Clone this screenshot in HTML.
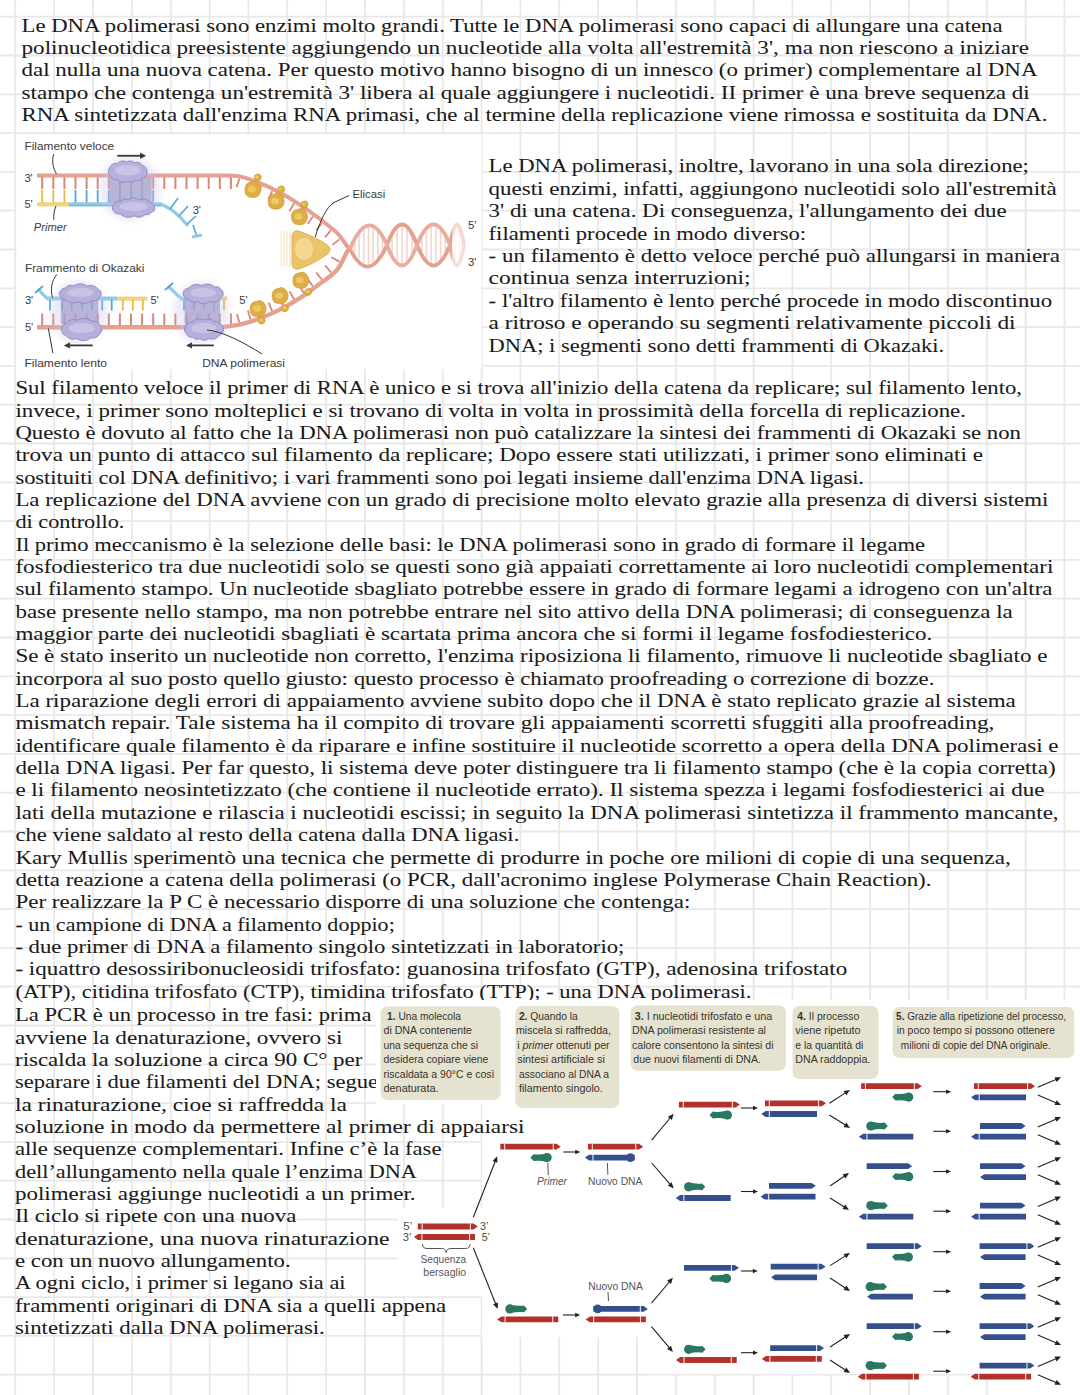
<!DOCTYPE html>
<html><head><meta charset="utf-8"><style>
html,body{margin:0;padding:0;background:#fff;width:1080px;height:1395px;overflow:hidden}
svg{display:block}
.t{font-family:"Liberation Serif",serif;font-size:18.3px;fill:#1a1a1a;stroke:#1a1a1a;stroke-width:0.06px}
.s{font-family:"Liberation Sans",sans-serif;fill:#444}
</style></head><body>
<svg width="1080" height="1395" viewBox="0 0 1080 1395">
<defs><clipPath id="clipB4"><rect x="0" y="1070" width="376" height="30"/></clipPath></defs>
<rect width="1080" height="1395" fill="#fff"/>
<g stroke="#e8e8e8" stroke-width="1.8"><line x1="15.30" y1="0" x2="15.30" y2="1395"/><line x1="54.16" y1="0" x2="54.16" y2="1395"/><line x1="93.01" y1="0" x2="93.01" y2="1395"/><line x1="131.87" y1="0" x2="131.87" y2="1395"/><line x1="170.72" y1="0" x2="170.72" y2="1395"/><line x1="209.58" y1="0" x2="209.58" y2="1395"/><line x1="248.44" y1="0" x2="248.44" y2="1395"/><line x1="287.29" y1="0" x2="287.29" y2="1395"/><line x1="326.15" y1="0" x2="326.15" y2="1395"/><line x1="365.00" y1="0" x2="365.00" y2="1395"/><line x1="403.86" y1="0" x2="403.86" y2="1395"/><line x1="442.72" y1="0" x2="442.72" y2="1395"/><line x1="481.57" y1="0" x2="481.57" y2="1395"/><line x1="520.43" y1="0" x2="520.43" y2="1395"/><line x1="559.28" y1="0" x2="559.28" y2="1395"/><line x1="598.14" y1="0" x2="598.14" y2="1395"/><line x1="637.00" y1="0" x2="637.00" y2="1395"/><line x1="675.85" y1="0" x2="675.85" y2="1395"/><line x1="714.71" y1="0" x2="714.71" y2="1395"/><line x1="753.56" y1="0" x2="753.56" y2="1395"/><line x1="792.42" y1="0" x2="792.42" y2="1395"/><line x1="831.28" y1="0" x2="831.28" y2="1395"/><line x1="870.13" y1="0" x2="870.13" y2="1395"/><line x1="908.99" y1="0" x2="908.99" y2="1395"/><line x1="947.84" y1="0" x2="947.84" y2="1395"/><line x1="986.70" y1="0" x2="986.70" y2="1395"/><line x1="1025.56" y1="0" x2="1025.56" y2="1395"/><line x1="1064.41" y1="0" x2="1064.41" y2="1395"/><line x1="0" y1="16.70" x2="1080" y2="16.70"/><line x1="0" y1="55.50" x2="1080" y2="55.50"/><line x1="0" y1="94.30" x2="1080" y2="94.30"/><line x1="0" y1="133.10" x2="1080" y2="133.10"/><line x1="0" y1="171.90" x2="1080" y2="171.90"/><line x1="0" y1="210.70" x2="1080" y2="210.70"/><line x1="0" y1="249.50" x2="1080" y2="249.50"/><line x1="0" y1="288.30" x2="1080" y2="288.30"/><line x1="0" y1="327.10" x2="1080" y2="327.10"/><line x1="0" y1="365.90" x2="1080" y2="365.90"/><line x1="0" y1="404.70" x2="1080" y2="404.70"/><line x1="0" y1="443.50" x2="1080" y2="443.50"/><line x1="0" y1="482.30" x2="1080" y2="482.30"/><line x1="0" y1="521.10" x2="1080" y2="521.10"/><line x1="0" y1="559.90" x2="1080" y2="559.90"/><line x1="0" y1="598.70" x2="1080" y2="598.70"/><line x1="0" y1="637.50" x2="1080" y2="637.50"/><line x1="0" y1="676.30" x2="1080" y2="676.30"/><line x1="0" y1="715.10" x2="1080" y2="715.10"/><line x1="0" y1="753.90" x2="1080" y2="753.90"/><line x1="0" y1="792.70" x2="1080" y2="792.70"/><line x1="0" y1="831.50" x2="1080" y2="831.50"/><line x1="0" y1="870.30" x2="1080" y2="870.30"/><line x1="0" y1="909.10" x2="1080" y2="909.10"/><line x1="0" y1="947.90" x2="1080" y2="947.90"/><line x1="0" y1="986.70" x2="1080" y2="986.70"/><line x1="0" y1="1025.50" x2="1080" y2="1025.50"/><line x1="0" y1="1064.30" x2="1080" y2="1064.30"/><line x1="0" y1="1103.10" x2="1080" y2="1103.10"/><line x1="0" y1="1141.90" x2="1080" y2="1141.90"/><line x1="0" y1="1180.70" x2="1080" y2="1180.70"/><line x1="0" y1="1219.50" x2="1080" y2="1219.50"/><line x1="0" y1="1258.30" x2="1080" y2="1258.30"/><line x1="0" y1="1297.10" x2="1080" y2="1297.10"/><line x1="0" y1="1335.90" x2="1080" y2="1335.90"/><line x1="0" y1="1374.70" x2="1080" y2="1374.70"/></g>
<text class="t" x="21.5" y="31.8" textLength="981.0" lengthAdjust="spacingAndGlyphs">Le DNA polimerasi sono enzimi molto grandi. Tutte le DNA polimerasi sono capaci di allungare una catena</text><text class="t" x="21.5" y="54.0" textLength="1007.5" lengthAdjust="spacingAndGlyphs">polinucleotidica preesistente aggiungendo un nucleotide alla volta all'estremità 3', ma non riescono a iniziare</text><text class="t" x="21.5" y="76.4" textLength="1016.0" lengthAdjust="spacingAndGlyphs">dal nulla una nuova catena. Per questo motivo hanno bisogno di un innesco (o primer) complementare al DNA</text><text class="t" x="21.5" y="98.8" textLength="1008.2" lengthAdjust="spacingAndGlyphs">stampo che contenga un'estremità 3' libera al quale aggiungere i nucleotidi. II primer è una breve sequenza di</text><text class="t" x="21.5" y="121.2" textLength="1026.0" lengthAdjust="spacingAndGlyphs">RNA sintetizzata dall'enzima RNA primasi, che al termine della replicazione viene rimossa e sostituita da DNA.</text><text class="t" x="488.6" y="172.3" textLength="540.3" lengthAdjust="spacingAndGlyphs">Le DNA polimerasi, inoltre, lavorano in una sola direzione;</text><text class="t" x="488.6" y="194.7" textLength="568.1" lengthAdjust="spacingAndGlyphs">questi enzimi, infatti, aggiungono nucleotidi solo all'estremità</text><text class="t" x="488.6" y="217.1" textLength="518.1" lengthAdjust="spacingAndGlyphs">3' di una catena. Di conseguenza, l'allungamento dei due</text><text class="t" x="488.6" y="239.5" textLength="317.5" lengthAdjust="spacingAndGlyphs">filamenti procede in modo diverso:</text><text class="t" x="488.6" y="261.9" textLength="571.4" lengthAdjust="spacingAndGlyphs">- un filamento è detto veloce perché può allungarsi in maniera</text><text class="t" x="488.6" y="284.3" textLength="262.0" lengthAdjust="spacingAndGlyphs">continua senza interruzioni;</text><text class="t" x="488.6" y="306.7" textLength="563.6" lengthAdjust="spacingAndGlyphs">- l'altro filamento è lento perché procede in modo discontinuo</text><text class="t" x="488.6" y="329.1" textLength="527.0" lengthAdjust="spacingAndGlyphs">a ritroso e operando su segmenti relativamente piccoli di</text><text class="t" x="488.6" y="351.5" textLength="455.4" lengthAdjust="spacingAndGlyphs">DNA; i segmenti sono detti frammenti di Okazaki.</text><text class="t" x="15.4" y="394.1" textLength="1006.6" lengthAdjust="spacingAndGlyphs">Sul filamento veloce il primer di RNA è unico e si trova all'inizio della catena da replicare; sul filamento lento,</text><text class="t" x="15.4" y="416.5" textLength="950.6" lengthAdjust="spacingAndGlyphs">invece, i primer sono molteplici e si trovano di volta in volta in prossimità della forcella di replicazione.</text><text class="t" x="15.4" y="438.8" textLength="1005.6" lengthAdjust="spacingAndGlyphs">Questo è dovuto al fatto che la DNA polimerasi non può catalizzare la sintesi dei frammenti di Okazaki se non</text><text class="t" x="15.4" y="461.2" textLength="967.6" lengthAdjust="spacingAndGlyphs">trova un punto di attacco sul filamento da replicare; Dopo essere stati utilizzati, i primer sono eliminati e</text><text class="t" x="15.4" y="483.5" textLength="848.6" lengthAdjust="spacingAndGlyphs">sostituiti col DNA definitivo; i vari frammenti sono poi legati insieme dall'enzima DNA ligasi.</text><text class="t" x="15.4" y="505.9" textLength="1033.0" lengthAdjust="spacingAndGlyphs">La replicazione del DNA avviene con un grado di precisione molto elevato grazie alla presenza di diversi sistemi</text><text class="t" x="15.4" y="528.2" textLength="109.0" lengthAdjust="spacingAndGlyphs">di controllo.</text><text class="t" x="15.4" y="550.6" textLength="909.6" lengthAdjust="spacingAndGlyphs">Il primo meccanismo è la selezione delle basi: le DNA polimerasi sono in grado di formare il legame</text><text class="t" x="15.4" y="572.9" textLength="1038.1" lengthAdjust="spacingAndGlyphs">fosfodiesterico tra due nucleotidi solo se questi sono già appaiati correttamente ai loro nucleotidi complementari</text><text class="t" x="15.4" y="595.2" textLength="1037.1" lengthAdjust="spacingAndGlyphs">sul filamento stampo. Un nucleotide sbagliato potrebbe essere in grado di formare legami a idrogeno con un'altra</text><text class="t" x="15.4" y="617.6" textLength="997.4" lengthAdjust="spacingAndGlyphs">base presente nello stampo, ma non potrebbe entrare nel sito attivo della DNA polimerasi; di conseguenza la</text><text class="t" x="15.4" y="640.0" textLength="916.9" lengthAdjust="spacingAndGlyphs">maggior parte dei nucleotidi sbagliati è scartata prima ancora che si formi il legame fosfodiesterico.</text><text class="t" x="15.4" y="662.3" textLength="1032.0" lengthAdjust="spacingAndGlyphs">Se è stato inserito un nucleotide non corretto, l'enzima riposiziona li filamento, rimuove li nucleotide sbagliato e</text><text class="t" x="15.4" y="684.7" textLength="919.0" lengthAdjust="spacingAndGlyphs">incorpora al suo posto quello giusto: questo processo è chiamato proofreading o correzione di bozze.</text><text class="t" x="15.4" y="707.0" textLength="1000.4" lengthAdjust="spacingAndGlyphs">La riparazione degli errori di appaiamento avviene subito dopo che il DNA è stato replicato grazie al sistema</text><text class="t" x="15.4" y="729.4" textLength="979.0" lengthAdjust="spacingAndGlyphs">mismatch repair. Tale sistema ha il compito di trovare gli appaiamenti scorretti sfuggiti alla proofreading,</text><text class="t" x="15.4" y="751.7" textLength="1043.2" lengthAdjust="spacingAndGlyphs">identificare quale filamento è da riparare e infine sostituire il nucleotide scorretto a opera della DNA polimerasi e</text><text class="t" x="15.4" y="774.1" textLength="1040.2" lengthAdjust="spacingAndGlyphs">della DNA ligasi. Per far questo, li sistema deve poter distinguere tra li filamento stampo (che è la copia corretta)</text><text class="t" x="15.4" y="796.4" textLength="1029.0" lengthAdjust="spacingAndGlyphs">e li filamento neosintetizzato (che contiene il nucleotide errato). Il sistema spezza i legami fosfodiesterici ai due</text><text class="t" x="15.4" y="818.8" textLength="1043.2" lengthAdjust="spacingAndGlyphs">lati della mutazione e rilascia i nucleotidi escissi; in seguito la DNA polimerasi sintetizza il frammento mancante,</text><text class="t" x="15.4" y="841.1" textLength="503.9" lengthAdjust="spacingAndGlyphs">che viene saldato al resto della catena dalla DNA ligasi.</text><text class="t" x="15.4" y="863.5" textLength="995.3" lengthAdjust="spacingAndGlyphs">Kary Mullis sperimentò una tecnica che permette di produrre in poche ore milioni di copie di una sequenza,</text><text class="t" x="15.4" y="885.8" textLength="916.1" lengthAdjust="spacingAndGlyphs">detta reazione a catena della polimerasi (o PCR, dall'acronimo inglese Polymerase Chain Reaction).</text><text class="t" x="15.4" y="908.2" textLength="675.0" lengthAdjust="spacingAndGlyphs">Per realizzare la P C è necessario disporre di una soluzione che contenga:</text><text class="t" x="15.4" y="930.5" textLength="379.4" lengthAdjust="spacingAndGlyphs">- un campione di DNA a filamento doppio;</text><text class="t" x="15.4" y="952.9" textLength="609.0" lengthAdjust="spacingAndGlyphs">- due primer di DNA a filamento singolo sintetizzati in laboratorio;</text><text class="t" x="15.4" y="975.2" textLength="831.8" lengthAdjust="spacingAndGlyphs">- iquattro desossiribonucleosidi trifosfato: guanosina trifosfato (GTP), adenosina trifostato</text><text class="t" x="15.4" y="997.6" textLength="735.9" lengthAdjust="spacingAndGlyphs">(ATP), citidina trifosfato (CTP), timidina trifosfato (TTP); - una DNA polimerasi.</text>
<defs><filter id="blur3" x="-50%" y="-50%" width="200%" height="200%"><feGaussianBlur stdDeviation="3"/></filter></defs><g id="fork"><rect x="16.5" y="134.5" width="465" height="234.5" fill="#fff"/><line x1="42.2" y1="177.0" x2="42.2" y2="189.0" stroke="#d98577" stroke-width="2.0" stroke-linecap="butt" opacity="1"/><line x1="53.3" y1="177.0" x2="53.3" y2="189.0" stroke="#d98577" stroke-width="2.0" stroke-linecap="butt" opacity="1"/><line x1="64.4" y1="177.0" x2="64.4" y2="189.0" stroke="#d98577" stroke-width="2.0" stroke-linecap="butt" opacity="1"/><line x1="75.5" y1="177.0" x2="75.5" y2="189.0" stroke="#d98577" stroke-width="2.0" stroke-linecap="butt" opacity="1"/><line x1="86.6" y1="177.0" x2="86.6" y2="189.0" stroke="#d98577" stroke-width="2.0" stroke-linecap="butt" opacity="1"/><line x1="97.7" y1="177.0" x2="97.7" y2="189.0" stroke="#d98577" stroke-width="2.0" stroke-linecap="butt" opacity="1"/><line x1="108.8" y1="177.0" x2="108.8" y2="189.0" stroke="#d98577" stroke-width="2.0" stroke-linecap="butt" opacity="1"/><line x1="119.9" y1="177.0" x2="119.9" y2="189.0" stroke="#d98577" stroke-width="2.0" stroke-linecap="butt" opacity="1"/><line x1="131.0" y1="177.0" x2="131.0" y2="189.0" stroke="#d98577" stroke-width="2.0" stroke-linecap="butt" opacity="1"/><line x1="142.1" y1="177.0" x2="142.1" y2="189.0" stroke="#d98577" stroke-width="2.0" stroke-linecap="butt" opacity="1"/><line x1="153.2" y1="177.0" x2="153.2" y2="189.0" stroke="#d98577" stroke-width="2.0" stroke-linecap="butt" opacity="1"/><line x1="164.3" y1="177.0" x2="164.3" y2="189.0" stroke="#d98577" stroke-width="2.0" stroke-linecap="butt" opacity="1"/><line x1="175.4" y1="177.0" x2="175.4" y2="189.0" stroke="#d98577" stroke-width="2.0" stroke-linecap="butt" opacity="1"/><line x1="186.5" y1="177.0" x2="186.5" y2="189.0" stroke="#d98577" stroke-width="2.0" stroke-linecap="butt" opacity="1"/><line x1="197.6" y1="177.0" x2="197.6" y2="189.0" stroke="#d98577" stroke-width="2.0" stroke-linecap="butt" opacity="1"/><line x1="208.7" y1="177.0" x2="208.7" y2="189.0" stroke="#d98577" stroke-width="2.0" stroke-linecap="butt" opacity="1"/><line x1="219.8" y1="177.0" x2="219.8" y2="189.0" stroke="#d98577" stroke-width="2.0" stroke-linecap="butt" opacity="1"/><line x1="230.9" y1="177.0" x2="230.9" y2="189.0" stroke="#d98577" stroke-width="2.0" stroke-linecap="butt" opacity="1"/><line x1="42.2" y1="190.0" x2="42.2" y2="203.0" stroke="#e2b94a" stroke-width="1.8" stroke-linecap="butt" opacity="1"/><line x1="53.3" y1="190.0" x2="53.3" y2="203.0" stroke="#e2b94a" stroke-width="1.8" stroke-linecap="butt" opacity="1"/><line x1="64.4" y1="190.0" x2="64.4" y2="203.0" stroke="#e2b94a" stroke-width="1.8" stroke-linecap="butt" opacity="1"/><line x1="75.5" y1="190.0" x2="75.5" y2="203.0" stroke="#4fa7d2" stroke-width="1.8" stroke-linecap="butt" opacity="1"/><line x1="86.6" y1="190.0" x2="86.6" y2="203.0" stroke="#4fa7d2" stroke-width="1.8" stroke-linecap="butt" opacity="1"/><line x1="97.7" y1="190.0" x2="97.7" y2="203.0" stroke="#4fa7d2" stroke-width="1.8" stroke-linecap="butt" opacity="1"/><line x1="108.8" y1="190.0" x2="108.8" y2="203.0" stroke="#4fa7d2" stroke-width="1.8" stroke-linecap="butt" opacity="1"/><line x1="119.9" y1="190.0" x2="119.9" y2="203.0" stroke="#4fa7d2" stroke-width="1.8" stroke-linecap="butt" opacity="1"/><line x1="131.0" y1="190.0" x2="131.0" y2="203.0" stroke="#4fa7d2" stroke-width="1.8" stroke-linecap="butt" opacity="1"/><line x1="142.1" y1="190.0" x2="142.1" y2="203.0" stroke="#4fa7d2" stroke-width="1.8" stroke-linecap="butt" opacity="1"/><line x1="153.2" y1="190.0" x2="153.2" y2="203.0" stroke="#4fa7d2" stroke-width="1.8" stroke-linecap="butt" opacity="1"/><line x1="37.0" y1="175.5" x2="221.0" y2="175.5" stroke="#e6a08f" stroke-width="4.0" stroke-linecap="butt" opacity="1"/><path d="M220.0,175.5 C223.2,175.7 232.9,175.2 239.4,176.4 C245.9,177.6 252.4,180.1 258.9,182.7 C265.4,185.3 271.8,188.4 278.3,191.8 C284.8,195.2 291.3,199.2 297.8,203.4 C304.3,207.6 310.7,212.1 317.2,217.0 C323.7,221.9 331.7,227.8 336.7,232.6 C341.7,237.4 344.8,243.3 347.0,246.0 C349.2,248.7 349.5,248.5 350.0,249.0" fill="none" stroke="#e6a08f" stroke-width="4.0" opacity="1" /><line x1="239.4" y1="178.5" x2="236.6" y2="187.1" stroke="#d98577" stroke-width="1.8" stroke-linecap="butt" opacity="1"/><line x1="250.4" y1="182.1" x2="247.6" y2="190.6" stroke="#d98577" stroke-width="1.8" stroke-linecap="butt" opacity="1"/><line x1="261.2" y1="186.0" x2="257.3" y2="194.1" stroke="#d98577" stroke-width="1.8" stroke-linecap="butt" opacity="1"/><line x1="272.2" y1="191.1" x2="268.3" y2="199.3" stroke="#d98577" stroke-width="1.8" stroke-linecap="butt" opacity="1"/><line x1="283.0" y1="196.9" x2="278.4" y2="204.6" stroke="#d98577" stroke-width="1.8" stroke-linecap="butt" opacity="1"/><line x1="294.0" y1="203.5" x2="289.4" y2="211.2" stroke="#d98577" stroke-width="1.8" stroke-linecap="butt" opacity="1"/><line x1="303.9" y1="210.1" x2="298.7" y2="217.5" stroke="#d98577" stroke-width="1.8" stroke-linecap="butt" opacity="1"/><line x1="312.9" y1="216.4" x2="307.7" y2="223.8" stroke="#d98577" stroke-width="1.8" stroke-linecap="butt" opacity="1"/><line x1="321.8" y1="223.2" x2="316.1" y2="230.2" stroke="#d98577" stroke-width="1.8" stroke-linecap="butt" opacity="1"/><line x1="330.8" y1="230.4" x2="325.1" y2="237.4" stroke="#d98577" stroke-width="1.8" stroke-linecap="butt" opacity="1"/><line x1="339.4" y1="239.4" x2="332.3" y2="244.9" stroke="#d98577" stroke-width="1.8" stroke-linecap="butt" opacity="1"/><line x1="37.0" y1="204.3" x2="69.0" y2="204.3" stroke="#f0d27a" stroke-width="4.2" stroke-linecap="butt" opacity="1"/><line x1="69.0" y1="204.3" x2="162.0" y2="204.3" stroke="#8fcbe6" stroke-width="4.2" stroke-linecap="butt" opacity="1"/><line x1="69.0" y1="205.5" x2="162.0" y2="205.5" stroke="#4fa7d2" stroke-width="1.0" stroke-linecap="butt" opacity="0.6"/><line x1="162.0" y1="204.5" x2="172.0" y2="210.0" stroke="#8fcbe6" stroke-width="3.2" stroke-linecap="butt" opacity="1"/><line x1="172.0" y1="210.0" x2="181.0" y2="218.0" stroke="#8fcbe6" stroke-width="3.2" stroke-linecap="butt" opacity="1"/><line x1="181.0" y1="218.0" x2="188.0" y2="226.0" stroke="#8fcbe6" stroke-width="3.2" stroke-linecap="butt" opacity="1"/><line x1="170.0" y1="209.0" x2="178.0" y2="198.0" stroke="#4fa7d2" stroke-width="1.6" stroke-linecap="butt" opacity="1"/><line x1="179.0" y1="216.0" x2="188.0" y2="206.0" stroke="#4fa7d2" stroke-width="1.6" stroke-linecap="butt" opacity="1"/><line x1="187.0" y1="224.0" x2="196.0" y2="216.0" stroke="#4fa7d2" stroke-width="1.6" stroke-linecap="butt" opacity="1"/><line x1="193.0" y1="225.0" x2="197.0" y2="237.0" stroke="#4fa7d2" stroke-width="1.6" stroke-linecap="butt" opacity="1"/><line x1="192.0" y1="237.0" x2="202.0" y2="235.0" stroke="#8fcbe6" stroke-width="3" stroke-linecap="butt" opacity="1"/><ellipse cx="129.7" cy="188.6" rx="31.0" ry="32.0" fill="#c9c5ea" opacity="0.35" filter="url(#blur3)"/><rect x="109.7" y="177.0" width="42.0" height="26.0" fill="#a39dcb" opacity="0.7"/><path d="M147.2,172.9 A5.9,5.9 0 0 1 142.5,178.0 A6.3,6.3 0 0 1 135.5,180.4 A6.8,6.8 0 0 1 127.5,181.2 A8.6,8.6 0 0 1 117.5,179.8 A8.3,8.3 0 0 1 109.3,174.7 A5.9,5.9 0 0 1 109.7,167.8 A7.7,7.7 0 0 1 117.6,163.3 A7.5,7.5 0 0 1 126.4,161.9 A6.7,6.7 0 0 1 134.3,162.5 A7.1,7.1 0 0 1 142.3,165.0 A7.9,7.9 0 0 1 147.2,172.9Z" fill="#b6b1dc" stroke="#8d87bf" stroke-width="0.9" stroke-linejoin="round"/><ellipse cx="127.8" cy="170.2" rx="12.7" ry="5.3" fill="#cfcbea" opacity="0.75"/><path d="M154.8,209.0 A4.0,4.0 0 0 1 151.4,212.2 A5.8,5.8 0 0 1 145.0,214.6 A9.3,9.3 0 0 1 134.1,215.8 A11.8,11.8 0 0 1 120.3,214.1 A7.9,7.9 0 0 1 112.4,209.1 A4.5,4.5 0 0 1 114.3,204.1 A6.0,6.0 0 0 1 120.7,201.2 A6.8,6.8 0 0 1 128.6,199.8 A8.9,8.9 0 0 1 139.1,199.9 A10.0,10.0 0 0 1 150.5,202.7 A6.4,6.4 0 0 1 154.8,209.0Z" fill="#b6b1dc" stroke="#8d87bf" stroke-width="0.9" stroke-linejoin="round"/><ellipse cx="133.6" cy="206.6" rx="13.9" ry="4.4" fill="#cfcbea" opacity="0.75"/><line x1="117.2" y1="155.8" x2="141.1" y2="155.8" stroke="#3a3a3a" stroke-width="1.8" stroke-linecap="butt" opacity="1"/><polygon points="146.1,155.8 140.1,152.6 140.1,159.0" fill="#3a3a3a"/><text x="24.4" y="150.3" textLength="89.8" lengthAdjust="spacingAndGlyphs" style="font-family:'Liberation Sans',sans-serif;font-size:11.2px;fill:#3a3a3a;">Filamento veloce</text><text x="24.4" y="181.5" textLength="8.3" lengthAdjust="spacingAndGlyphs" style="font-family:'Liberation Sans',sans-serif;font-size:11.2px;fill:#3a3a3a;">3'</text><text x="24.4" y="207.5" textLength="8.3" lengthAdjust="spacingAndGlyphs" style="font-family:'Liberation Sans',sans-serif;font-size:11.2px;fill:#3a3a3a;">5'</text><text x="192.7" y="214.0" textLength="8.3" lengthAdjust="spacingAndGlyphs" style="font-family:'Liberation Sans',sans-serif;font-size:11.2px;fill:#3a3a3a;">3'</text><text x="33.8" y="231.4" textLength="32.9" lengthAdjust="spacingAndGlyphs" style="font-family:'Liberation Sans',sans-serif;font-size:11.2px;fill:#3a3a3a;font-style:italic;">Primer</text><path d="M53.8,154 C51.5,161 53,168 56.5,174" fill="none" stroke="#333" stroke-width="1" opacity="1" /><path d="M56,206 C54,211 53.5,215 53.8,219.8" fill="none" stroke="#333" stroke-width="1" opacity="1" /><line x1="42.2" y1="313.5" x2="42.2" y2="325.0" stroke="#d98577" stroke-width="2.0" stroke-linecap="butt" opacity="1"/><line x1="53.3" y1="313.5" x2="53.3" y2="325.0" stroke="#d98577" stroke-width="2.0" stroke-linecap="butt" opacity="1"/><line x1="64.4" y1="313.5" x2="64.4" y2="325.0" stroke="#d98577" stroke-width="2.0" stroke-linecap="butt" opacity="1"/><line x1="75.5" y1="313.5" x2="75.5" y2="325.0" stroke="#d98577" stroke-width="2.0" stroke-linecap="butt" opacity="1"/><line x1="86.6" y1="313.5" x2="86.6" y2="325.0" stroke="#d98577" stroke-width="2.0" stroke-linecap="butt" opacity="1"/><line x1="97.7" y1="313.5" x2="97.7" y2="325.0" stroke="#d98577" stroke-width="2.0" stroke-linecap="butt" opacity="1"/><line x1="108.8" y1="313.5" x2="108.8" y2="325.0" stroke="#d98577" stroke-width="2.0" stroke-linecap="butt" opacity="1"/><line x1="119.9" y1="313.5" x2="119.9" y2="325.0" stroke="#d98577" stroke-width="2.0" stroke-linecap="butt" opacity="1"/><line x1="131.0" y1="313.5" x2="131.0" y2="325.0" stroke="#d98577" stroke-width="2.0" stroke-linecap="butt" opacity="1"/><line x1="142.1" y1="313.5" x2="142.1" y2="325.0" stroke="#d98577" stroke-width="2.0" stroke-linecap="butt" opacity="1"/><line x1="153.2" y1="313.5" x2="153.2" y2="325.0" stroke="#d98577" stroke-width="2.0" stroke-linecap="butt" opacity="1"/><line x1="164.3" y1="313.5" x2="164.3" y2="325.0" stroke="#d98577" stroke-width="2.0" stroke-linecap="butt" opacity="1"/><line x1="175.4" y1="313.5" x2="175.4" y2="325.0" stroke="#d98577" stroke-width="2.0" stroke-linecap="butt" opacity="1"/><line x1="186.5" y1="313.5" x2="186.5" y2="325.0" stroke="#d98577" stroke-width="2.0" stroke-linecap="butt" opacity="1"/><line x1="197.6" y1="313.5" x2="197.6" y2="325.0" stroke="#d98577" stroke-width="2.0" stroke-linecap="butt" opacity="1"/><line x1="208.7" y1="313.5" x2="208.7" y2="325.0" stroke="#d98577" stroke-width="2.0" stroke-linecap="butt" opacity="1"/><line x1="219.8" y1="313.5" x2="219.8" y2="325.0" stroke="#d98577" stroke-width="2.0" stroke-linecap="butt" opacity="1"/><line x1="230.9" y1="313.5" x2="230.9" y2="325.0" stroke="#d98577" stroke-width="2.0" stroke-linecap="butt" opacity="1"/><line x1="37.0" y1="327.2" x2="221.0" y2="327.2" stroke="#e6a08f" stroke-width="4.4" stroke-linecap="butt" opacity="1"/><path d="M220.0,327.2 C223.2,326.8 232.9,326.0 239.4,324.6 C245.9,323.2 252.4,321.2 258.9,318.8 C265.4,316.4 271.8,313.6 278.3,310.4 C284.8,307.2 291.3,303.5 297.8,299.4 C304.3,295.3 310.7,290.6 317.2,285.7 C323.7,280.8 331.7,275.8 336.7,270.2 C341.7,264.6 344.8,255.5 347.0,252.0 C349.2,248.5 349.5,249.5 350.0,249.0" fill="none" stroke="#e6a08f" stroke-width="4.4" opacity="1" /><line x1="239.4" y1="322.5" x2="236.9" y2="313.9" stroke="#d98577" stroke-width="1.8" stroke-linecap="butt" opacity="1"/><line x1="250.4" y1="319.2" x2="247.9" y2="310.6" stroke="#d98577" stroke-width="1.8" stroke-linecap="butt" opacity="1"/><line x1="261.2" y1="315.6" x2="257.6" y2="307.4" stroke="#d98577" stroke-width="1.8" stroke-linecap="butt" opacity="1"/><line x1="272.2" y1="310.9" x2="268.6" y2="302.6" stroke="#d98577" stroke-width="1.8" stroke-linecap="butt" opacity="1"/><line x1="283.0" y1="305.4" x2="278.6" y2="297.6" stroke="#d98577" stroke-width="1.8" stroke-linecap="butt" opacity="1"/><line x1="294.0" y1="299.2" x2="289.6" y2="291.4" stroke="#d98577" stroke-width="1.8" stroke-linecap="butt" opacity="1"/><line x1="303.8" y1="292.7" x2="298.7" y2="285.3" stroke="#d98577" stroke-width="1.8" stroke-linecap="butt" opacity="1"/><line x1="312.8" y1="286.3" x2="307.7" y2="279.0" stroke="#d98577" stroke-width="1.8" stroke-linecap="butt" opacity="1"/><line x1="321.8" y1="279.5" x2="316.2" y2="272.5" stroke="#d98577" stroke-width="1.8" stroke-linecap="butt" opacity="1"/><line x1="330.8" y1="272.4" x2="325.2" y2="265.3" stroke="#d98577" stroke-width="1.8" stroke-linecap="butt" opacity="1"/><line x1="339.3" y1="261.6" x2="331.4" y2="257.2" stroke="#d98577" stroke-width="1.8" stroke-linecap="butt" opacity="1"/><line x1="46.7" y1="298.6" x2="117.0" y2="298.6" stroke="#8fcbe6" stroke-width="4.0" stroke-linecap="butt" opacity="1"/><line x1="117.0" y1="298.6" x2="147.5" y2="298.6" stroke="#f0d27a" stroke-width="4.0" stroke-linecap="butt" opacity="1"/><line x1="50.0" y1="300.0" x2="50.0" y2="310.6" stroke="#4fa7d2" stroke-width="1.8" stroke-linecap="butt" opacity="1"/><line x1="62.2" y1="300.0" x2="62.2" y2="310.6" stroke="#4fa7d2" stroke-width="1.8" stroke-linecap="butt" opacity="1"/><line x1="71.7" y1="300.0" x2="71.7" y2="310.6" stroke="#4fa7d2" stroke-width="1.8" stroke-linecap="butt" opacity="1"/><line x1="82.2" y1="300.0" x2="82.2" y2="310.6" stroke="#4fa7d2" stroke-width="1.8" stroke-linecap="butt" opacity="1"/><line x1="92.2" y1="300.0" x2="92.2" y2="310.6" stroke="#4fa7d2" stroke-width="1.8" stroke-linecap="butt" opacity="1"/><line x1="102.2" y1="300.0" x2="102.2" y2="310.6" stroke="#4fa7d2" stroke-width="1.8" stroke-linecap="butt" opacity="1"/><line x1="111.7" y1="300.0" x2="111.7" y2="310.6" stroke="#4fa7d2" stroke-width="1.8" stroke-linecap="butt" opacity="1"/><line x1="122.8" y1="300.0" x2="122.8" y2="310.6" stroke="#e2b94a" stroke-width="1.8" stroke-linecap="butt" opacity="1"/><line x1="132.8" y1="300.0" x2="132.8" y2="310.6" stroke="#e2b94a" stroke-width="1.8" stroke-linecap="butt" opacity="1"/><line x1="142.8" y1="300.0" x2="142.8" y2="310.6" stroke="#e2b94a" stroke-width="1.8" stroke-linecap="butt" opacity="1"/><line x1="38.0" y1="289.0" x2="47.0" y2="298.6" stroke="#8fcbe6" stroke-width="3.2" stroke-linecap="butt" opacity="1"/><line x1="35.0" y1="293.0" x2="43.0" y2="286.0" stroke="#4fa7d2" stroke-width="1.8" stroke-linecap="butt" opacity="1"/><line x1="168.0" y1="286.0" x2="180.0" y2="297.5" stroke="#8fcbe6" stroke-width="3.2" stroke-linecap="butt" opacity="1"/><line x1="165.0" y1="290.0" x2="173.0" y2="283.0" stroke="#4fa7d2" stroke-width="1.8" stroke-linecap="butt" opacity="1"/><line x1="180.0" y1="298.6" x2="194.0" y2="298.6" stroke="#8fcbe6" stroke-width="4.0" stroke-linecap="butt" opacity="1"/><line x1="194.0" y1="298.6" x2="227.0" y2="298.6" stroke="#f0d27a" stroke-width="4.0" stroke-linecap="butt" opacity="1"/><line x1="184.0" y1="300.0" x2="184.0" y2="310.6" stroke="#4fa7d2" stroke-width="1.8" stroke-linecap="butt" opacity="1"/><line x1="194.0" y1="300.0" x2="194.0" y2="310.6" stroke="#4fa7d2" stroke-width="1.8" stroke-linecap="butt" opacity="1"/><line x1="204.0" y1="300.0" x2="204.0" y2="310.6" stroke="#e2b94a" stroke-width="1.8" stroke-linecap="butt" opacity="1"/><line x1="214.0" y1="300.0" x2="214.0" y2="310.6" stroke="#e2b94a" stroke-width="1.8" stroke-linecap="butt" opacity="1"/><line x1="224.0" y1="300.0" x2="224.0" y2="310.6" stroke="#e2b94a" stroke-width="1.8" stroke-linecap="butt" opacity="1"/><ellipse cx="78.5" cy="312.2" rx="28.8" ry="31.8" fill="#c9c5ea" opacity="0.35" filter="url(#blur3)"/><rect x="60.8" y="298.0" width="37.5" height="26.0" fill="#a39dcb" opacity="0.7"/><path d="M101.2,293.9 A3.3,3.3 0 0 1 99.2,297.2 A6.8,6.8 0 0 1 92.0,300.5 A11.7,11.7 0 0 1 78.3,301.8 A11.6,11.6 0 0 1 64.9,299.2 A6.0,6.0 0 0 1 59.5,294.6 A3.4,3.4 0 0 1 60.7,290.8 A4.5,4.5 0 0 1 65.2,288.0 A7.6,7.6 0 0 1 73.8,285.9 A11.4,11.4 0 0 1 87.2,286.0 A10.3,10.3 0 0 1 98.7,289.8 A4.1,4.1 0 0 1 101.2,293.9Z" fill="#b6b1dc" stroke="#8d87bf" stroke-width="0.9" stroke-linejoin="round"/><ellipse cx="80.3" cy="292.6" rx="13.5" ry="4.5" fill="#cfcbea" opacity="0.75"/><path d="M101.6,328.3 A4.4,4.4 0 0 1 100.1,333.2 A8.8,8.8 0 0 1 90.9,337.9 A12.2,12.2 0 0 1 76.6,338.6 A9.3,9.3 0 0 1 66.1,335.5 A4.9,4.9 0 0 1 62.0,331.5 A3.2,3.2 0 0 1 61.9,327.7 A5.0,5.0 0 0 1 66.1,323.5 A9.7,9.7 0 0 1 77.0,320.3 A12.2,12.2 0 0 1 91.3,321.2 A8.5,8.5 0 0 1 100.2,325.8 A2.4,2.4 0 0 1 101.6,328.3Z" fill="#b6b1dc" stroke="#8d87bf" stroke-width="0.9" stroke-linejoin="round"/><ellipse cx="81.7" cy="328.2" rx="13.0" ry="5.1" fill="#cfcbea" opacity="0.75"/><ellipse cx="201.3" cy="312.2" rx="27.7" ry="31.8" fill="#c9c5ea" opacity="0.35" filter="url(#blur3)"/><rect x="184.6" y="298.0" width="35.4" height="26.0" fill="#a39dcb" opacity="0.7"/><path d="M223.1,292.4 A5.1,5.1 0 0 1 220.7,297.8 A10.0,10.0 0 0 1 209.5,301.5 A10.6,10.6 0 0 1 197.1,301.5 A7.0,7.0 0 0 1 189.0,299.5 A4.5,4.5 0 0 1 184.5,296.7 A3.5,3.5 0 0 1 183.2,292.8 A6.2,6.2 0 0 1 188.7,288.0 A11.3,11.3 0 0 1 201.8,285.5 A10.9,10.9 0 0 1 214.6,286.9 A6.3,6.3 0 0 1 221.3,290.1 A2.5,2.5 0 0 1 223.1,292.4Z" fill="#b6b1dc" stroke="#8d87bf" stroke-width="0.9" stroke-linejoin="round"/><ellipse cx="203.2" cy="292.6" rx="13.0" ry="4.5" fill="#cfcbea" opacity="0.75"/><path d="M223.5,329.0 A6.6,6.6 0 0 1 219.1,335.4 A9.0,9.0 0 0 1 209.0,338.6 A7.8,7.8 0 0 1 199.9,338.7 A6.3,6.3 0 0 1 192.6,337.2 A6.0,6.0 0 0 1 186.5,333.7 A5.3,5.3 0 0 1 184.8,327.7 A8.0,8.0 0 0 1 192.3,322.0 A10.5,10.5 0 0 1 204.5,320.1 A8.2,8.2 0 0 1 214.0,321.4 A5.4,5.4 0 0 1 219.9,324.0 A5.3,5.3 0 0 1 223.5,329.0Z" fill="#b6b1dc" stroke="#8d87bf" stroke-width="0.9" stroke-linejoin="round"/><ellipse cx="204.0" cy="328.2" rx="12.6" ry="5.1" fill="#cfcbea" opacity="0.75"/><line x1="92.8" y1="345.4" x2="68.9" y2="345.4" stroke="#3a3a3a" stroke-width="1.8" stroke-linecap="butt" opacity="1"/><polygon points="63.9,345.4 69.9,342.2 69.9,348.6" fill="#3a3a3a"/><line x1="213.8" y1="345.4" x2="191.0" y2="345.4" stroke="#3a3a3a" stroke-width="1.8" stroke-linecap="butt" opacity="1"/><polygon points="186.0,345.4 192.0,342.2 192.0,348.6" fill="#3a3a3a"/><text x="24.9" y="272.0" textLength="119.5" lengthAdjust="spacingAndGlyphs" style="font-family:'Liberation Sans',sans-serif;font-size:11.2px;fill:#3a3a3a;">Frammento di Okazaki</text><text x="24.9" y="303.5" textLength="8.3" lengthAdjust="spacingAndGlyphs" style="font-family:'Liberation Sans',sans-serif;font-size:11.2px;fill:#3a3a3a;">3'</text><text x="24.9" y="330.6" textLength="8.3" lengthAdjust="spacingAndGlyphs" style="font-family:'Liberation Sans',sans-serif;font-size:11.2px;fill:#3a3a3a;">5'</text><text x="150.4" y="303.5" textLength="8.3" lengthAdjust="spacingAndGlyphs" style="font-family:'Liberation Sans',sans-serif;font-size:11.2px;fill:#3a3a3a;">5'</text><text x="239.3" y="303.5" textLength="8.3" lengthAdjust="spacingAndGlyphs" style="font-family:'Liberation Sans',sans-serif;font-size:11.2px;fill:#3a3a3a;">5'</text><text x="24.4" y="366.8" textLength="82.6" lengthAdjust="spacingAndGlyphs" style="font-family:'Liberation Sans',sans-serif;font-size:11.2px;fill:#3a3a3a;">Filamento lento</text><text x="202.2" y="366.8" textLength="82.8" lengthAdjust="spacingAndGlyphs" style="font-family:'Liberation Sans',sans-serif;font-size:11.2px;fill:#3a3a3a;">DNA polimerasi</text><path d="M57,274.5 C51,281 50.5,290 52.5,297.5" fill="none" stroke="#333" stroke-width="1" opacity="1" /><path d="M48.3,328.5 C50,337 51.5,345 52.8,353" fill="none" stroke="#333" stroke-width="1" opacity="1" /><path d="M207,330 C222,331 245,343 262,354" fill="none" stroke="#333" stroke-width="1" opacity="1" /><path d="M254.3,177.5 Q254.3,174.2 257.1,174.2 Q258.7,173.1 260.4,174.8 Q262.0,176.9 260.9,179.2 Q259.8,181.3 257.1,180.8 Q254.3,180.8 254.3,177.5Z" fill="#dcae45" stroke="#c8952e" stroke-width="0.6" opacity="1" /><ellipse cx="257.1" cy="177.0" rx="1.8" ry="1.4" fill="#f0cd6e" opacity="0.8"/><path d="M244.9,189.8 Q244.9,182.3 251.2,182.3 Q254.9,179.8 258.6,183.6 Q262.4,188.6 259.9,193.6 Q257.4,198.6 251.2,197.3 Q244.9,197.3 244.9,189.8Z" fill="#dcae45" stroke="#c8952e" stroke-width="0.6" opacity="1" /><ellipse cx="251.9" cy="189.3" rx="4.0" ry="3.2" fill="#f0cd6e" opacity="0.8"/><path d="M277.7,189.5 Q277.7,186.2 280.4,186.2 Q282.1,185.1 283.8,186.8 Q285.4,188.9 284.3,191.2 Q283.2,193.3 280.4,192.8 Q277.7,192.8 277.7,189.5Z" fill="#dcae45" stroke="#c8952e" stroke-width="0.6" opacity="1" /><ellipse cx="280.5" cy="189.0" rx="1.8" ry="1.4" fill="#f0cd6e" opacity="0.8"/><path d="M268.2,201.5 Q268.2,194.0 274.4,194.0 Q278.2,191.5 281.9,195.2 Q285.7,200.2 283.2,205.2 Q280.7,210.2 274.4,209.0 Q268.2,209.0 268.2,201.5Z" fill="#dcae45" stroke="#c8952e" stroke-width="0.6" opacity="1" /><ellipse cx="275.2" cy="201.0" rx="4.0" ry="3.2" fill="#f0cd6e" opacity="0.8"/><path d="M301.0,204.5 Q301.0,201.2 303.8,201.2 Q305.4,200.1 307.1,201.8 Q308.7,203.9 307.6,206.2 Q306.5,208.3 303.8,207.8 Q301.0,207.8 301.0,204.5Z" fill="#dcae45" stroke="#c8952e" stroke-width="0.6" opacity="1" /><ellipse cx="303.8" cy="204.0" rx="1.8" ry="1.4" fill="#f0cd6e" opacity="0.8"/><path d="M291.5,217.0 Q291.5,209.5 297.8,209.5 Q301.5,207.0 305.2,210.8 Q309.0,215.8 306.5,220.8 Q304.0,225.8 297.8,224.5 Q291.5,224.5 291.5,217.0Z" fill="#dcae45" stroke="#c8952e" stroke-width="0.6" opacity="1" /><ellipse cx="298.5" cy="216.5" rx="4.0" ry="3.2" fill="#f0cd6e" opacity="0.8"/><path d="M304.7,292.0 Q304.7,288.7 307.4,288.7 Q309.1,287.6 310.8,289.2 Q312.4,291.4 311.3,293.6 Q310.2,295.9 307.4,295.3 Q304.7,295.3 304.7,292.0Z" fill="#dcae45" stroke="#c8952e" stroke-width="0.6" opacity="1" /><ellipse cx="307.5" cy="291.5" rx="1.8" ry="1.4" fill="#f0cd6e" opacity="0.8"/><path d="M292.9,280.6 Q292.9,273.1 299.1,273.1 Q302.9,270.6 306.6,274.4 Q310.4,279.4 307.9,284.4 Q305.4,289.4 299.1,288.1 Q292.9,288.1 292.9,280.6Z" fill="#dcae45" stroke="#c8952e" stroke-width="0.6" opacity="1" /><ellipse cx="299.9" cy="280.1" rx="4.0" ry="3.2" fill="#f0cd6e" opacity="0.8"/><path d="M281.5,308.4 Q281.5,305.1 284.2,305.1 Q285.9,304.0 287.6,305.6 Q289.2,307.8 288.1,310.0 Q287.0,312.2 284.2,311.7 Q281.5,311.7 281.5,308.4Z" fill="#dcae45" stroke="#c8952e" stroke-width="0.6" opacity="1" /><ellipse cx="284.3" cy="307.9" rx="1.8" ry="1.4" fill="#f0cd6e" opacity="0.8"/><path d="M272.1,296.1 Q272.1,288.6 278.4,288.6 Q282.1,286.1 285.9,289.9 Q289.6,294.9 287.1,299.9 Q284.6,304.9 278.4,303.6 Q272.1,303.6 272.1,296.1Z" fill="#dcae45" stroke="#c8952e" stroke-width="0.6" opacity="1" /><ellipse cx="279.1" cy="295.6" rx="4.0" ry="3.2" fill="#f0cd6e" opacity="0.8"/><path d="M258.2,320.7 Q258.2,317.4 260.9,317.4 Q262.6,316.3 264.2,317.9 Q265.9,320.1 264.8,322.3 Q263.7,324.6 260.9,324.0 Q258.2,324.0 258.2,320.7Z" fill="#dcae45" stroke="#c8952e" stroke-width="0.6" opacity="1" /><ellipse cx="261.0" cy="320.2" rx="1.8" ry="1.4" fill="#f0cd6e" opacity="0.8"/><path d="M250.1,309.0 Q250.1,301.5 256.4,301.5 Q260.1,299.0 263.9,302.8 Q267.6,307.8 265.1,312.8 Q262.6,317.8 256.4,316.5 Q250.1,316.5 250.1,309.0Z" fill="#dcae45" stroke="#c8952e" stroke-width="0.6" opacity="1" /><ellipse cx="257.1" cy="308.5" rx="4.0" ry="3.2" fill="#f0cd6e" opacity="0.8"/><line x1="354.6" y1="237.8" x2="354.6" y2="252.2" stroke="#eab3a6" stroke-width="1.6" stroke-linecap="butt" opacity="0.55"/><line x1="359.2" y1="231.7" x2="359.2" y2="258.3" stroke="#eab3a6" stroke-width="1.6" stroke-linecap="butt" opacity="0.55"/><line x1="363.9" y1="227.6" x2="363.9" y2="262.4" stroke="#eab3a6" stroke-width="1.6" stroke-linecap="butt" opacity="0.55"/><line x1="368.5" y1="226.1" x2="368.5" y2="263.9" stroke="#eab3a6" stroke-width="1.6" stroke-linecap="butt" opacity="0.55"/><line x1="373.1" y1="227.6" x2="373.1" y2="262.4" stroke="#eab3a6" stroke-width="1.6" stroke-linecap="butt" opacity="0.55"/><line x1="377.8" y1="231.7" x2="377.8" y2="258.3" stroke="#eab3a6" stroke-width="1.6" stroke-linecap="butt" opacity="0.55"/><line x1="382.4" y1="237.8" x2="382.4" y2="252.2" stroke="#eab3a6" stroke-width="1.6" stroke-linecap="butt" opacity="0.55"/><line x1="392.0" y1="235.6" x2="392.0" y2="254.4" stroke="#eab3a6" stroke-width="1.6" stroke-linecap="butt" opacity="0.55"/><line x1="397.0" y1="228.7" x2="397.0" y2="261.3" stroke="#eab3a6" stroke-width="1.6" stroke-linecap="butt" opacity="0.55"/><line x1="402.0" y1="226.1" x2="402.0" y2="263.9" stroke="#eab3a6" stroke-width="1.6" stroke-linecap="butt" opacity="0.55"/><line x1="407.0" y1="228.7" x2="407.0" y2="261.3" stroke="#eab3a6" stroke-width="1.6" stroke-linecap="butt" opacity="0.55"/><line x1="412.0" y1="235.6" x2="412.0" y2="254.4" stroke="#eab3a6" stroke-width="1.6" stroke-linecap="butt" opacity="0.55"/><line x1="421.7" y1="236.8" x2="421.7" y2="253.2" stroke="#eab3a6" stroke-width="1.6" stroke-linecap="butt" opacity="0.55"/><line x1="426.4" y1="230.3" x2="426.4" y2="259.7" stroke="#eab3a6" stroke-width="1.6" stroke-linecap="butt" opacity="0.55"/><line x1="431.1" y1="226.6" x2="431.1" y2="263.4" stroke="#eab3a6" stroke-width="1.6" stroke-linecap="butt" opacity="0.55"/><line x1="435.9" y1="226.6" x2="435.9" y2="263.4" stroke="#eab3a6" stroke-width="1.6" stroke-linecap="butt" opacity="0.55"/><line x1="440.6" y1="230.3" x2="440.6" y2="259.7" stroke="#eab3a6" stroke-width="1.6" stroke-linecap="butt" opacity="0.55"/><line x1="445.3" y1="236.8" x2="445.3" y2="253.2" stroke="#eab3a6" stroke-width="1.6" stroke-linecap="butt" opacity="0.55"/><line x1="454.7" y1="228.7" x2="454.7" y2="261.3" stroke="#eab3a6" stroke-width="1.6" stroke-linecap="butt" opacity="0.3"/><line x1="459.3" y1="228.7" x2="459.3" y2="261.3" stroke="#eab3a6" stroke-width="1.6" stroke-linecap="butt" opacity="0.3"/><path d="M350,249 Q368.5,286.0 387.0,245.0 Q402.0,204.0 417.0,245.0 Q433.5,286.0 450.0,245.0 Q457.0,204.0 464.0,245.0" fill="none" stroke="#e6a08f" stroke-width="3.8" opacity="1" /><path d="M350,249 Q368.5,204.0 387.0,245.0 Q402.0,286.0 417.0,245.0 Q433.5,204.0 450.0,245.0 Q457.0,286.0 464.0,245.0" fill="none" stroke="#e9ada0" stroke-width="3.8" opacity="1" /><rect x="452" y="218" width="16" height="52" fill="#fff" opacity="0.6"/><text x="468.0" y="228.6" textLength="8.5" lengthAdjust="spacingAndGlyphs" style="font-family:'Liberation Sans',sans-serif;font-size:11.2px;fill:#3a3a3a;">5'</text><text x="468.0" y="266.0" textLength="8.5" lengthAdjust="spacingAndGlyphs" style="font-family:'Liberation Sans',sans-serif;font-size:11.2px;fill:#3a3a3a;">3'</text><line x1="281.0" y1="231.0" x2="281.0" y2="267.0" stroke="#f3d9a6" stroke-width="1.2" stroke-linecap="butt" opacity="0.5"/><line x1="284.0" y1="231.0" x2="284.0" y2="267.0" stroke="#f3d9a6" stroke-width="1.2" stroke-linecap="butt" opacity="0.6"/><line x1="287.0" y1="231.0" x2="287.0" y2="267.0" stroke="#f3d9a6" stroke-width="1.2" stroke-linecap="butt" opacity="0.7"/><line x1="290.0" y1="231.0" x2="290.0" y2="267.0" stroke="#f3d9a6" stroke-width="1.2" stroke-linecap="butt" opacity="0.8"/><path d="M292,237 Q292,229.5 299,231 Q318,238 328,245.5 Q332,249.5 328,253.5 Q318,262 299,269 Q292,270.5 292,263 Z" fill="#ebc46a" stroke="#d6a84c" stroke-width="0.8" opacity="1" /><ellipse cx="304" cy="249" rx="9" ry="11" fill="#f6dea0" opacity="0.75"/><text x="352.5" y="198.3" textLength="32.7" lengthAdjust="spacingAndGlyphs" style="font-family:'Liberation Sans',sans-serif;font-size:11.2px;fill:#3a3a3a;">Elicasi</text><path d="M349,195.5 L334,202.5 C326,207 320,222 315.2,237" fill="none" stroke="#333" stroke-width="1" opacity="1" /></g>
<g id="pcr"><path d="M376,1000 H1080 V1395 H1000 V1374 H650 V1337 H482 V1104 H376 Z" fill="#fff"/><rect x="398" y="1208" width="90" height="88" fill="#fff"/><rect x="380.5" y="1006.5" width="120.1" height="93.5" rx="7" ry="7" fill="#e5e2d0"/><rect x="515.3" y="1006" width="104.1" height="102.0" rx="7" ry="7" fill="#e5e2d0"/><rect x="630.5" y="1005.5" width="155.5" height="65.3" rx="7" ry="7" fill="#e5e2d0"/><rect x="792.5" y="1006" width="86.1" height="73.0" rx="7" ry="7" fill="#e5e2d0"/><rect x="892.5" y="1007" width="181.9" height="51.0" rx="7" ry="7" fill="#e5e2d0"/><text x="387.0" y="1019.5" textLength="74.0" lengthAdjust="spacingAndGlyphs" style="font-family:'Liberation Sans',sans-serif;font-size:10.6px;fill:#36342c"><tspan font-weight="bold">1.</tspan> Una molecola</text><text x="383.5" y="1034.0" textLength="88.5" lengthAdjust="spacingAndGlyphs" style="font-family:'Liberation Sans',sans-serif;font-size:10.6px;fill:#36342c">di DNA contenente</text><text x="383.5" y="1048.5" textLength="94.5" lengthAdjust="spacingAndGlyphs" style="font-family:'Liberation Sans',sans-serif;font-size:10.6px;fill:#36342c">una sequenza che si</text><text x="383.5" y="1063.0" textLength="104.9" lengthAdjust="spacingAndGlyphs" style="font-family:'Liberation Sans',sans-serif;font-size:10.6px;fill:#36342c">desidera copiare viene</text><text x="383.5" y="1077.6" textLength="111.0" lengthAdjust="spacingAndGlyphs" style="font-family:'Liberation Sans',sans-serif;font-size:10.6px;fill:#36342c">riscaldata a 90°C e così</text><text x="383.5" y="1092.0" textLength="55.0" lengthAdjust="spacingAndGlyphs" style="font-family:'Liberation Sans',sans-serif;font-size:10.6px;fill:#36342c">denaturata.</text><text x="518.9" y="1019.5" textLength="58.9" lengthAdjust="spacingAndGlyphs" style="font-family:'Liberation Sans',sans-serif;font-size:10.6px;fill:#36342c"><tspan font-weight="bold">2.</tspan> Quando la</text><text x="516.0" y="1034.0" textLength="95.0" lengthAdjust="spacingAndGlyphs" style="font-family:'Liberation Sans',sans-serif;font-size:10.6px;fill:#36342c">miscela si raffredda,</text><text x="517.2" y="1048.5" textLength="92.5" lengthAdjust="spacingAndGlyphs" style="font-family:'Liberation Sans',sans-serif;font-size:10.6px;fill:#36342c">i <tspan font-style="italic">primer</tspan> ottenuti per</text><text x="517.2" y="1063.0" textLength="87.8" lengthAdjust="spacingAndGlyphs" style="font-family:'Liberation Sans',sans-serif;font-size:10.6px;fill:#36342c">sintesi artificiale si</text><text x="518.9" y="1077.6" textLength="90.0" lengthAdjust="spacingAndGlyphs" style="font-family:'Liberation Sans',sans-serif;font-size:10.6px;fill:#36342c">associano al DNA a</text><text x="518.9" y="1092.0" textLength="83.9" lengthAdjust="spacingAndGlyphs" style="font-family:'Liberation Sans',sans-serif;font-size:10.6px;fill:#36342c">filamento singolo.</text><text x="634.7" y="1019.5" textLength="137.5" lengthAdjust="spacingAndGlyphs" style="font-family:'Liberation Sans',sans-serif;font-size:10.6px;fill:#36342c"><tspan font-weight="bold">3.</tspan> I nucleotidi trifosfato e una</text><text x="632.0" y="1034.0" textLength="134.0" lengthAdjust="spacingAndGlyphs" style="font-family:'Liberation Sans',sans-serif;font-size:10.6px;fill:#36342c">DNA polimerasi resistente al</text><text x="632.0" y="1048.5" textLength="141.6" lengthAdjust="spacingAndGlyphs" style="font-family:'Liberation Sans',sans-serif;font-size:10.6px;fill:#36342c">calore consentono la sintesi di</text><text x="633.3" y="1063.0" textLength="127.7" lengthAdjust="spacingAndGlyphs" style="font-family:'Liberation Sans',sans-serif;font-size:10.6px;fill:#36342c">due nuovi filamenti di DNA.</text><text x="797.2" y="1019.5" textLength="62.0" lengthAdjust="spacingAndGlyphs" style="font-family:'Liberation Sans',sans-serif;font-size:10.6px;fill:#36342c"><tspan font-weight="bold">4.</tspan> Il processo</text><text x="795.3" y="1034.0" textLength="65.3" lengthAdjust="spacingAndGlyphs" style="font-family:'Liberation Sans',sans-serif;font-size:10.6px;fill:#36342c">viene ripetuto</text><text x="795.3" y="1048.5" textLength="68.0" lengthAdjust="spacingAndGlyphs" style="font-family:'Liberation Sans',sans-serif;font-size:10.6px;fill:#36342c">e la quantità di</text><text x="795.3" y="1063.0" textLength="75.0" lengthAdjust="spacingAndGlyphs" style="font-family:'Liberation Sans',sans-serif;font-size:10.6px;fill:#36342c">DNA raddoppia.</text><text x="896.1" y="1019.5" textLength="169.9" lengthAdjust="spacingAndGlyphs" style="font-family:'Liberation Sans',sans-serif;font-size:10.6px;fill:#36342c"><tspan font-weight="bold">5.</tspan> Grazie alla ripetizione del processo,</text><text x="896.7" y="1034.0" textLength="158.3" lengthAdjust="spacingAndGlyphs" style="font-family:'Liberation Sans',sans-serif;font-size:10.6px;fill:#36342c">in poco tempo si possono ottenere</text><text x="900.8" y="1048.5" textLength="150.0" lengthAdjust="spacingAndGlyphs" style="font-family:'Liberation Sans',sans-serif;font-size:10.6px;fill:#36342c">milioni di copie del DNA originale.</text><polygon points="417.8,1223.6 473.6,1223.6 477.8,1226.5 473.6,1229.4 417.8,1229.4" fill="#b3302b"/><rect x="421.6" y="1223.3" width="1.1" height="6.4" fill="#fff" opacity="0.85"/><rect x="469.8" y="1223.3" width="1.1" height="6.4" fill="#fff" opacity="0.85"/><polygon points="413.9,1237.0 418.1,1234.1 475.0,1234.1 475.0,1239.9 418.1,1239.9" fill="#b3302b"/><rect x="421.4" y="1233.8" width="1.1" height="6.4" fill="#fff" opacity="0.85"/><rect x="469.0" y="1233.8" width="1.1" height="6.4" fill="#fff" opacity="0.85"/><text x="403.3" y="1229.8" textLength="8.9" lengthAdjust="spacingAndGlyphs" style="font-family:'Liberation Sans',sans-serif;font-size:10.8px;fill:#4a4a4a;">5’</text><text x="480.0" y="1229.8" textLength="8.3" lengthAdjust="spacingAndGlyphs" style="font-family:'Liberation Sans',sans-serif;font-size:10.8px;fill:#4a4a4a;">3’</text><text x="402.8" y="1240.6" textLength="8.7" lengthAdjust="spacingAndGlyphs" style="font-family:'Liberation Sans',sans-serif;font-size:10.8px;fill:#4a4a4a;">3’</text><text x="481.7" y="1240.6" textLength="8.3" lengthAdjust="spacingAndGlyphs" style="font-family:'Liberation Sans',sans-serif;font-size:10.8px;fill:#4a4a4a;">5’</text><path d="M422.5,1244 Q422.5,1248.5 427,1248.5 L441.5,1248.5 Q446,1248.5 446.2,1252.6 Q446.4,1248.5 451,1248.5 L465.5,1248.5 Q470,1248.5 470,1244" fill="none" stroke="#555" stroke-width="1"/><text x="420.6" y="1262.8" textLength="45.5" lengthAdjust="spacingAndGlyphs" style="font-family:'Liberation Sans',sans-serif;font-size:11.2px;fill:#555;">Sequenza</text><text x="423.3" y="1275.6" textLength="42.8" lengthAdjust="spacingAndGlyphs" style="font-family:'Liberation Sans',sans-serif;font-size:11.2px;fill:#555;">bersaglio</text><line x1="473.3" y1="1217.2" x2="495.4" y2="1161.0" stroke="#222" stroke-width="1.1"/><polygon points="497.2,1156.3 497.4,1162.8 492.6,1160.9" fill="#222"/><line x1="473.3" y1="1247.8" x2="495.8" y2="1304.3" stroke="#222" stroke-width="1.1"/><polygon points="497.7,1308.9 493.1,1304.3 497.9,1302.4" fill="#222"/><polygon points="500.3,1143.8 556.5,1143.8 560.7,1146.7 556.5,1149.6 500.3,1149.6" fill="#b3302b"/><rect x="504.1" y="1143.5" width="1.1" height="6.4" fill="#fff" opacity="0.85"/><rect x="552.7" y="1143.5" width="1.1" height="6.4" fill="#fff" opacity="0.85"/><path d="M530.4,1157.6 L533.6,1154.2 Q538.8,1155.2 547.1,1153.4 L547.1,1161.8 Q538.8,1160.0 533.6,1161.0 Z" fill="#2a7862"/><circle cx="547.1" cy="1157.6" r="4.6" fill="#2a7862"/><line x1="547.8" y1="1163" x2="548.3" y2="1175" stroke="#555" stroke-width="1"/><text x="537.0" y="1184.8" textLength="30.0" lengthAdjust="spacingAndGlyphs" style="font-family:'Liberation Sans',sans-serif;font-size:11.2px;fill:#555;font-style:italic;">Primer</text><line x1="563.3" y1="1152.0" x2="576.2" y2="1152.0" stroke="#222" stroke-width="1.1"/><polygon points="580.2,1152.0 575.2,1154.3 575.2,1149.7" fill="#222"/><polygon points="588.0,1143.8 639.0,1143.8 643.2,1146.7 639.0,1149.6 588.0,1149.6" fill="#b3302b"/><rect x="591.8" y="1143.5" width="1.1" height="6.4" fill="#fff" opacity="0.85"/><rect x="635.2" y="1143.5" width="1.1" height="6.4" fill="#fff" opacity="0.85"/><polygon points="584.9,1157.6 589.1,1154.7 634.6,1154.7 634.6,1160.5 589.1,1160.5" fill="#34508c"/><rect x="592.4" y="1154.4" width="1.1" height="6.4" fill="#fff" opacity="0.85"/><circle cx="630.4" cy="1157.6" r="4.3" fill="#34508c"/><line x1="607.4" y1="1163" x2="607.9" y2="1175" stroke="#555" stroke-width="1"/><text x="588.0" y="1184.8" textLength="54.4" lengthAdjust="spacingAndGlyphs" style="font-family:'Liberation Sans',sans-serif;font-size:11.2px;fill:#555;">Nuovo DNA</text><line x1="651.7" y1="1140.2" x2="670.5" y2="1117.5" stroke="#222" stroke-width="1.1"/><polygon points="673.7,1113.7 671.9,1120.0 667.9,1116.7" fill="#222"/><line x1="651.7" y1="1163.0" x2="670.4" y2="1184.6" stroke="#222" stroke-width="1.1"/><polygon points="673.7,1188.4 667.8,1185.6 671.7,1182.2" fill="#222"/><path d="M527.2,1308.9 L524.0,1305.5 Q518.5,1306.5 509.8,1304.7 L509.8,1313.1 Q518.5,1311.3 524.0,1312.3 Z" fill="#2a7862"/><circle cx="509.8" cy="1308.9" r="4.6" fill="#2a7862"/><polygon points="497.1,1319.4 501.3,1316.5 558.2,1316.5 558.2,1322.3 501.3,1322.3" fill="#b3302b"/><rect x="504.6" y="1316.2" width="1.1" height="6.4" fill="#fff" opacity="0.85"/><rect x="552.2" y="1316.2" width="1.1" height="6.4" fill="#fff" opacity="0.85"/><line x1="562.9" y1="1315.0" x2="576.2" y2="1315.0" stroke="#222" stroke-width="1.1"/><polygon points="580.2,1315.0 575.2,1317.3 575.2,1312.7" fill="#222"/><polygon points="593.4,1306.0 643.6,1306.0 647.8,1308.9 643.6,1311.8 593.4,1311.8" fill="#34508c"/><circle cx="597.7" cy="1308.9" r="4.4" fill="#34508c"/><rect x="639.8" y="1305.7" width="1.1" height="6.4" fill="#fff" opacity="0.85"/><polygon points="585.6,1319.4 589.8,1316.5 645.9,1316.5 645.9,1322.3 589.8,1322.3" fill="#b3302b"/><rect x="593.1" y="1316.2" width="1.1" height="6.4" fill="#fff" opacity="0.85"/><rect x="639.9" y="1316.2" width="1.1" height="6.4" fill="#fff" opacity="0.85"/><text x="588.3" y="1289.5" textLength="54.7" lengthAdjust="spacingAndGlyphs" style="font-family:'Liberation Sans',sans-serif;font-size:11.2px;fill:#555;">Nuovo DNA</text><line x1="608" y1="1292" x2="608.5" y2="1301" stroke="#555" stroke-width="1"/><line x1="651.5" y1="1303.1" x2="669.7" y2="1281.5" stroke="#222" stroke-width="1.1"/><polygon points="672.9,1277.7 671.0,1284.0 667.0,1280.6" fill="#222"/><line x1="651.5" y1="1326.6" x2="669.7" y2="1348.2" stroke="#222" stroke-width="1.1"/><polygon points="672.9,1352.0 667.0,1349.1 671.0,1345.7" fill="#222"/><polygon points="678.9,1101.7 735.6,1101.7 739.8,1104.6 735.6,1107.5 678.9,1107.5" fill="#b3302b"/><rect x="682.7" y="1101.4" width="1.1" height="6.4" fill="#fff" opacity="0.85"/><rect x="731.8" y="1101.4" width="1.1" height="6.4" fill="#fff" opacity="0.85"/><path d="M709.5,1115.0 L712.7,1111.6 Q718.5,1112.6 727.4,1110.8 L727.4,1119.2 Q718.5,1117.4 712.7,1118.4 Z" fill="#2a7862"/><circle cx="727.4" cy="1115.0" r="4.6" fill="#2a7862"/><line x1="741.0" y1="1108.0" x2="754.0" y2="1108.0" stroke="#222" stroke-width="1.1"/><polygon points="758.0,1108.0 753.0,1110.3 753.0,1105.7" fill="#222"/><polygon points="765.0,1100.4 821.8,1100.4 826.0,1103.3 821.8,1106.2 765.0,1106.2" fill="#b3302b"/><rect x="768.8" y="1100.1" width="1.1" height="6.4" fill="#fff" opacity="0.85"/><rect x="818.0" y="1100.1" width="1.1" height="6.4" fill="#fff" opacity="0.85"/><polygon points="761.3,1114.0 765.5,1111.1 817.0,1111.1 817.0,1116.9 765.5,1116.9" fill="#34508c"/><rect x="768.8" y="1110.8" width="1.1" height="6.4" fill="#fff" opacity="0.85"/><line x1="829.3" y1="1103.3" x2="845.8" y2="1092.6" stroke="#222" stroke-width="1.1"/><polygon points="850.0,1089.9 846.4,1095.3 843.6,1091.0" fill="#222"/><line x1="829.3" y1="1115.0" x2="845.8" y2="1125.3" stroke="#222" stroke-width="1.1"/><polygon points="850.0,1128.0 843.5,1127.0 846.3,1122.6" fill="#222"/><path d="M705.3,1186.8 L702.1,1183.4 Q697.0,1184.4 688.6,1182.6 L688.6,1191.0 Q697.0,1189.2 702.1,1190.2 Z" fill="#2a7862"/><circle cx="688.6" cy="1186.8" r="4.6" fill="#2a7862"/><polygon points="675.8,1198.0 680.0,1195.1 730.7,1195.1 730.7,1200.9 680.0,1200.9" fill="#34508c"/><rect x="683.3" y="1194.8" width="1.1" height="6.4" fill="#fff" opacity="0.85"/><line x1="741.0" y1="1191.5" x2="754.0" y2="1191.5" stroke="#222" stroke-width="1.1"/><polygon points="758.0,1191.5 753.0,1193.8 753.0,1189.2" fill="#222"/><polygon points="769.0,1182.9 811.6,1182.9 815.8,1185.8 811.6,1188.7 769.0,1188.7" fill="#34508c"/><polygon points="760.6,1196.7 764.8,1193.8 815.5,1193.8 815.5,1199.6 764.8,1199.6" fill="#34508c"/><rect x="768.1" y="1193.5" width="1.1" height="6.4" fill="#fff" opacity="0.85"/><line x1="830.0" y1="1186.0" x2="844.9" y2="1175.8" stroke="#222" stroke-width="1.1"/><polygon points="849.0,1173.0 845.5,1178.5 842.6,1174.2" fill="#222"/><line x1="830.0" y1="1198.0" x2="844.8" y2="1207.3" stroke="#222" stroke-width="1.1"/><polygon points="849.0,1210.0 842.5,1209.0 845.3,1204.6" fill="#222"/><polygon points="684.0,1264.9 734.7,1264.9 738.9,1267.8 734.7,1270.7 684.0,1270.7" fill="#34508c"/><rect x="730.9" y="1264.6" width="1.1" height="6.4" fill="#fff" opacity="0.85"/><path d="M709.3,1278.4 L712.5,1275.0 Q717.9,1276.0 726.5,1274.2 L726.5,1282.6 Q717.9,1280.8 712.5,1281.8 Z" fill="#2a7862"/><circle cx="726.5" cy="1278.4" r="4.6" fill="#2a7862"/><line x1="741.0" y1="1271.0" x2="753.8" y2="1271.0" stroke="#222" stroke-width="1.1"/><polygon points="757.8,1271.0 752.8,1273.3 752.8,1268.7" fill="#222"/><polygon points="770.7,1263.8 821.4,1263.8 825.6,1266.7 821.4,1269.6 770.7,1269.6" fill="#34508c"/><rect x="817.6" y="1263.5" width="1.1" height="6.4" fill="#fff" opacity="0.85"/><polygon points="771.0,1277.3 775.2,1274.4 817.0,1274.4 817.0,1280.2 775.2,1280.2" fill="#34508c"/><line x1="830.0" y1="1265.6" x2="845.8" y2="1255.6" stroke="#222" stroke-width="1.1"/><polygon points="850.0,1252.9 846.3,1258.3 843.5,1253.9" fill="#222"/><line x1="830.0" y1="1278.0" x2="845.8" y2="1288.3" stroke="#222" stroke-width="1.1"/><polygon points="850.0,1291.0 843.6,1289.9 846.4,1285.6" fill="#222"/><path d="M705.6,1349.3 L702.4,1345.9 Q697.1,1346.9 688.6,1345.1 L688.6,1353.5 Q697.1,1351.7 702.4,1352.7 Z" fill="#2a7862"/><circle cx="688.6" cy="1349.3" r="4.6" fill="#2a7862"/><polygon points="676.0,1360.0 680.2,1357.1 736.7,1357.1 736.7,1362.9 680.2,1362.9" fill="#b3302b"/><rect x="683.5" y="1356.8" width="1.1" height="6.4" fill="#fff" opacity="0.85"/><rect x="730.7" y="1356.8" width="1.1" height="6.4" fill="#fff" opacity="0.85"/><line x1="741.0" y1="1352.7" x2="754.0" y2="1352.7" stroke="#222" stroke-width="1.1"/><polygon points="758.0,1352.7 753.0,1355.0 753.0,1350.4" fill="#222"/><polygon points="770.2,1345.3 819.8,1345.3 824.0,1348.2 819.8,1351.1 770.2,1351.1" fill="#34508c"/><rect x="816.0" y="1345.0" width="1.1" height="6.4" fill="#fff" opacity="0.85"/><polygon points="761.8,1358.9 766.0,1356.0 821.8,1356.0 821.8,1361.8 766.0,1361.8" fill="#b3302b"/><rect x="769.3" y="1355.7" width="1.1" height="6.4" fill="#fff" opacity="0.85"/><rect x="815.8" y="1355.7" width="1.1" height="6.4" fill="#fff" opacity="0.85"/><line x1="830.0" y1="1347.0" x2="845.8" y2="1336.7" stroke="#222" stroke-width="1.1"/><polygon points="850.0,1334.0 846.4,1339.4 843.6,1335.1" fill="#222"/><line x1="830.0" y1="1360.0" x2="845.8" y2="1370.3" stroke="#222" stroke-width="1.1"/><polygon points="850.0,1373.0 843.6,1371.9 846.4,1367.6" fill="#222"/><polygon points="861.1,1083.3 917.6,1083.3 921.8,1086.2 917.6,1089.1 861.1,1089.1" fill="#b3302b"/><rect x="864.9" y="1083.0" width="1.1" height="6.4" fill="#fff" opacity="0.85"/><rect x="913.8" y="1083.0" width="1.1" height="6.4" fill="#fff" opacity="0.85"/><path d="M892.2,1097.1 L895.4,1093.7 Q900.5,1094.7 908.7,1092.9 L908.7,1101.3 Q900.5,1099.5 895.4,1100.5 Z" fill="#2a7862"/><circle cx="908.7" cy="1097.1" r="4.6" fill="#2a7862"/><polygon points="974.0,1083.3 1030.8,1083.3 1035.0,1086.2 1030.8,1089.1 974.0,1089.1" fill="#b3302b"/><rect x="977.8" y="1083.0" width="1.1" height="6.4" fill="#fff" opacity="0.85"/><rect x="1027.0" y="1083.0" width="1.1" height="6.4" fill="#fff" opacity="0.85"/><polygon points="971.1,1097.3 975.3,1094.4 1026.0,1094.4 1026.0,1100.2 975.3,1100.2" fill="#34508c"/><rect x="978.6" y="1094.1" width="1.1" height="6.4" fill="#fff" opacity="0.85"/><line x1="933.3" y1="1091.7" x2="947.1" y2="1091.7" stroke="#222" stroke-width="1.1"/><polygon points="951.1,1091.7 946.1,1094.0 946.1,1089.4" fill="#222"/><line x1="1037.8" y1="1087.2" x2="1056.5" y2="1079.2" stroke="#222" stroke-width="1.1"/><polygon points="1061.1,1077.2 1056.6,1082.0 1054.6,1077.2" fill="#222"/><line x1="1037.8" y1="1095.1" x2="1056.5" y2="1103.1" stroke="#222" stroke-width="1.1"/><polygon points="1061.1,1105.1 1054.6,1105.1 1056.6,1100.3" fill="#222"/><path d="M887.8,1126.0 L884.6,1122.6 Q879.3,1123.6 870.8,1121.8 L870.8,1130.2 Q879.3,1128.4 884.6,1129.4 Z" fill="#2a7862"/><circle cx="870.8" cy="1126.0" r="4.6" fill="#2a7862"/><polygon points="858.9,1136.7 863.1,1133.8 913.3,1133.8 913.3,1139.6 863.1,1139.6" fill="#34508c"/><rect x="866.4" y="1133.5" width="1.1" height="6.4" fill="#fff" opacity="0.85"/><polygon points="980.0,1123.1 1021.4,1123.1 1025.6,1126.0 1021.4,1128.9 980.0,1128.9" fill="#34508c"/><polygon points="971.1,1136.7 975.3,1133.8 1026.0,1133.8 1026.0,1139.6 975.3,1139.6" fill="#34508c"/><rect x="978.6" y="1133.5" width="1.1" height="6.4" fill="#fff" opacity="0.85"/><line x1="933.3" y1="1131.3" x2="947.1" y2="1131.3" stroke="#222" stroke-width="1.1"/><polygon points="951.1,1131.3 946.1,1133.6 946.1,1129.0" fill="#222"/><line x1="1037.8" y1="1127.0" x2="1056.5" y2="1119.0" stroke="#222" stroke-width="1.1"/><polygon points="1061.1,1117.0 1056.6,1121.8 1054.6,1117.0" fill="#222"/><line x1="1037.8" y1="1134.7" x2="1056.5" y2="1142.7" stroke="#222" stroke-width="1.1"/><polygon points="1061.1,1144.7 1054.6,1144.7 1056.6,1139.9" fill="#222"/><polygon points="866.7,1163.3 908.0,1163.3 912.2,1166.2 908.0,1169.1 866.7,1169.1" fill="#34508c"/><path d="M892.2,1176.7 L895.4,1173.3 Q900.5,1174.3 908.7,1172.5 L908.7,1180.9 Q900.5,1179.1 895.4,1180.1 Z" fill="#2a7862"/><circle cx="908.7" cy="1176.7" r="4.6" fill="#2a7862"/><polygon points="980.0,1163.3 1021.4,1163.3 1025.6,1166.2 1021.4,1169.1 980.0,1169.1" fill="#34508c"/><polygon points="980.0,1177.1 984.2,1174.2 1026.0,1174.2 1026.0,1180.0 984.2,1180.0" fill="#34508c"/><line x1="933.3" y1="1171.5" x2="947.1" y2="1171.5" stroke="#222" stroke-width="1.1"/><polygon points="951.1,1171.5 946.1,1173.8 946.1,1169.2" fill="#222"/><line x1="1037.8" y1="1167.2" x2="1056.5" y2="1159.2" stroke="#222" stroke-width="1.1"/><polygon points="1061.1,1157.2 1056.6,1162.0 1054.6,1157.2" fill="#222"/><line x1="1037.8" y1="1174.7" x2="1056.5" y2="1182.7" stroke="#222" stroke-width="1.1"/><polygon points="1061.1,1184.7 1054.6,1184.7 1056.6,1179.9" fill="#222"/><path d="M887.8,1205.6 L884.6,1202.2 Q879.3,1203.2 870.8,1201.4 L870.8,1209.8 Q879.3,1208.0 884.6,1209.0 Z" fill="#2a7862"/><circle cx="870.8" cy="1205.6" r="4.6" fill="#2a7862"/><polygon points="858.9,1216.7 863.1,1213.8 913.3,1213.8 913.3,1219.6 863.1,1219.6" fill="#34508c"/><rect x="866.4" y="1213.5" width="1.1" height="6.4" fill="#fff" opacity="0.85"/><polygon points="980.0,1202.7 1021.4,1202.7 1025.6,1205.6 1021.4,1208.5 980.0,1208.5" fill="#34508c"/><polygon points="971.1,1216.7 975.3,1213.8 1026.0,1213.8 1026.0,1219.6 975.3,1219.6" fill="#34508c"/><rect x="978.6" y="1213.5" width="1.1" height="6.4" fill="#fff" opacity="0.85"/><line x1="933.3" y1="1211.2" x2="947.1" y2="1211.2" stroke="#222" stroke-width="1.1"/><polygon points="951.1,1211.2 946.1,1213.5 946.1,1208.9" fill="#222"/><line x1="1037.8" y1="1206.6" x2="1056.5" y2="1198.6" stroke="#222" stroke-width="1.1"/><polygon points="1061.1,1196.6 1056.6,1201.4 1054.6,1196.6" fill="#222"/><line x1="1037.8" y1="1214.7" x2="1056.5" y2="1222.7" stroke="#222" stroke-width="1.1"/><polygon points="1061.1,1224.7 1054.6,1224.7 1056.6,1219.9" fill="#222"/><polygon points="866.7,1243.3 917.6,1243.3 921.8,1246.2 917.6,1249.1 866.7,1249.1" fill="#34508c"/><rect x="913.8" y="1243.0" width="1.1" height="6.4" fill="#fff" opacity="0.85"/><path d="M892.0,1257.1 L895.2,1253.7 Q900.2,1254.7 908.4,1252.9 L908.4,1261.3 Q900.2,1259.5 895.2,1260.5 Z" fill="#2a7862"/><circle cx="908.4" cy="1257.1" r="4.6" fill="#2a7862"/><polygon points="979.6,1243.3 1030.2,1243.3 1034.4,1246.2 1030.2,1249.1 979.6,1249.1" fill="#34508c"/><rect x="1026.4" y="1243.0" width="1.1" height="6.4" fill="#fff" opacity="0.85"/><polygon points="980.0,1257.1 984.2,1254.2 1025.6,1254.2 1025.6,1260.0 984.2,1260.0" fill="#34508c"/><line x1="933.3" y1="1251.7" x2="947.1" y2="1251.7" stroke="#222" stroke-width="1.1"/><polygon points="951.1,1251.7 946.1,1254.0 946.1,1249.4" fill="#222"/><line x1="1037.8" y1="1247.2" x2="1056.5" y2="1239.2" stroke="#222" stroke-width="1.1"/><polygon points="1061.1,1237.2 1056.6,1242.0 1054.6,1237.2" fill="#222"/><line x1="1037.8" y1="1255.1" x2="1056.5" y2="1263.1" stroke="#222" stroke-width="1.1"/><polygon points="1061.1,1265.1 1054.6,1265.1 1056.6,1260.3" fill="#222"/><path d="M887.0,1286.7 L883.8,1283.3 Q878.6,1284.3 870.2,1282.5 L870.2,1290.9 Q878.6,1289.1 883.8,1290.1 Z" fill="#2a7862"/><circle cx="870.2" cy="1286.7" r="4.6" fill="#2a7862"/><polygon points="867.0,1296.7 871.2,1293.8 912.9,1293.8 912.9,1299.6 871.2,1299.6" fill="#34508c"/><polygon points="979.6,1283.1 1021.4,1283.1 1025.6,1286.0 1021.4,1288.9 979.6,1288.9" fill="#34508c"/><polygon points="980.0,1296.7 984.2,1293.8 1025.6,1293.8 1025.6,1299.6 984.2,1299.6" fill="#34508c"/><line x1="933.3" y1="1291.3" x2="947.1" y2="1291.3" stroke="#222" stroke-width="1.1"/><polygon points="951.1,1291.3 946.1,1293.6 946.1,1289.0" fill="#222"/><line x1="1037.8" y1="1287.0" x2="1056.5" y2="1279.0" stroke="#222" stroke-width="1.1"/><polygon points="1061.1,1277.0 1056.6,1281.8 1054.6,1277.0" fill="#222"/><line x1="1037.8" y1="1294.7" x2="1056.5" y2="1302.7" stroke="#222" stroke-width="1.1"/><polygon points="1061.1,1304.7 1054.6,1304.7 1056.6,1299.9" fill="#222"/><polygon points="866.7,1323.3 917.6,1323.3 921.8,1326.2 917.6,1329.1 866.7,1329.1" fill="#34508c"/><rect x="913.8" y="1323.0" width="1.1" height="6.4" fill="#fff" opacity="0.85"/><path d="M892.0,1336.7 L895.2,1333.3 Q900.2,1334.3 908.4,1332.5 L908.4,1340.9 Q900.2,1339.1 895.2,1340.1 Z" fill="#2a7862"/><circle cx="908.4" cy="1336.7" r="4.6" fill="#2a7862"/><polygon points="979.6,1323.3 1030.2,1323.3 1034.4,1326.2 1030.2,1329.1 979.6,1329.1" fill="#34508c"/><rect x="1026.4" y="1323.0" width="1.1" height="6.4" fill="#fff" opacity="0.85"/><polygon points="980.0,1337.1 984.2,1334.2 1025.6,1334.2 1025.6,1340.0 984.2,1340.0" fill="#34508c"/><line x1="933.3" y1="1331.7" x2="947.1" y2="1331.7" stroke="#222" stroke-width="1.1"/><polygon points="951.1,1331.7 946.1,1334.0 946.1,1329.4" fill="#222"/><line x1="1037.8" y1="1327.2" x2="1056.5" y2="1319.2" stroke="#222" stroke-width="1.1"/><polygon points="1061.1,1317.2 1056.6,1322.0 1054.6,1317.2" fill="#222"/><line x1="1037.8" y1="1335.1" x2="1056.5" y2="1343.1" stroke="#222" stroke-width="1.1"/><polygon points="1061.1,1345.1 1054.6,1345.1 1056.6,1340.3" fill="#222"/><path d="M887.0,1365.6 L883.8,1362.2 Q878.6,1363.2 870.2,1361.4 L870.2,1369.8 Q878.6,1368.0 883.8,1369.0 Z" fill="#2a7862"/><circle cx="870.2" cy="1365.6" r="4.6" fill="#2a7862"/><polygon points="857.8,1376.7 862.0,1373.8 918.9,1373.8 918.9,1379.6 862.0,1379.6" fill="#b3302b"/><rect x="865.3" y="1373.5" width="1.1" height="6.4" fill="#fff" opacity="0.85"/><rect x="912.9" y="1373.5" width="1.1" height="6.4" fill="#fff" opacity="0.85"/><polygon points="979.6,1362.7 1030.2,1362.7 1034.4,1365.6 1030.2,1368.5 979.6,1368.5" fill="#34508c"/><rect x="1026.4" y="1362.4" width="1.1" height="6.4" fill="#fff" opacity="0.85"/><polygon points="970.7,1376.7 974.9,1373.8 1031.1,1373.8 1031.1,1379.6 974.9,1379.6" fill="#b3302b"/><rect x="978.2" y="1373.5" width="1.1" height="6.4" fill="#fff" opacity="0.85"/><rect x="1025.1" y="1373.5" width="1.1" height="6.4" fill="#fff" opacity="0.85"/><line x1="933.3" y1="1371.2" x2="947.1" y2="1371.2" stroke="#222" stroke-width="1.1"/><polygon points="951.1,1371.2 946.1,1373.5 946.1,1368.9" fill="#222"/><line x1="1037.8" y1="1366.6" x2="1056.5" y2="1358.6" stroke="#222" stroke-width="1.1"/><polygon points="1061.1,1356.6 1056.6,1361.4 1054.6,1356.6" fill="#222"/><line x1="1037.8" y1="1374.7" x2="1056.5" y2="1382.7" stroke="#222" stroke-width="1.1"/><polygon points="1061.1,1384.7 1054.6,1384.7 1056.6,1379.9" fill="#222"/></g>
<text class="t" x="15.0" y="1021.3" textLength="356.5" lengthAdjust="spacingAndGlyphs">La PCR è un processo in tre fasi: prima</text><text class="t" x="15.0" y="1043.6" textLength="327.4" lengthAdjust="spacingAndGlyphs">avviene la denaturazione, ovvero si</text><text class="t" x="15.0" y="1066.0" textLength="347.4" lengthAdjust="spacingAndGlyphs">riscalda la soluzione a circa 90 C° per</text><text clip-path="url(#clipB4)" class="t" x="15.0" y="1088.3" textLength="363.0" lengthAdjust="spacingAndGlyphs">separare i due filamenti del DNA; segue</text><text class="t" x="15.0" y="1110.7" textLength="331.9" lengthAdjust="spacingAndGlyphs">la rinaturazione, cioe si raffredda la</text><text class="t" x="15.0" y="1133.0" textLength="509.5" lengthAdjust="spacingAndGlyphs">soluzione in modo da permettere al primer di appaiarsi</text><text class="t" x="15.0" y="1155.3" textLength="426.5" lengthAdjust="spacingAndGlyphs">alle sequenze complementari. Infine c’è la fase</text><text class="t" x="15.0" y="1177.7" textLength="401.9" lengthAdjust="spacingAndGlyphs">dell’allungamento nella quale l’enzima DNA</text><text class="t" x="15.0" y="1200.0" textLength="400.6" lengthAdjust="spacingAndGlyphs">polimerasi aggiunge nucleotidi a un primer.</text><text class="t" x="15.0" y="1222.4" textLength="281.3" lengthAdjust="spacingAndGlyphs">Il ciclo si ripete con una nuova</text><text class="t" x="15.0" y="1244.7" textLength="374.6" lengthAdjust="spacingAndGlyphs">denaturazione, una nuova rinaturazione</text><text class="t" x="15.0" y="1267.0" textLength="275.6" lengthAdjust="spacingAndGlyphs">e con un nuovo allungamento.</text><text class="t" x="15.0" y="1289.4" textLength="330.6" lengthAdjust="spacingAndGlyphs">A ogni ciclo, i primer si legano sia ai</text><text class="t" x="15.0" y="1311.7" textLength="431.2" lengthAdjust="spacingAndGlyphs">frammenti originari di DNA sia a quelli appena</text><text class="t" x="15.0" y="1334.1" textLength="309.8" lengthAdjust="spacingAndGlyphs">sintetizzati dalla DNA polimerasi.</text>
</svg>
</body></html>
